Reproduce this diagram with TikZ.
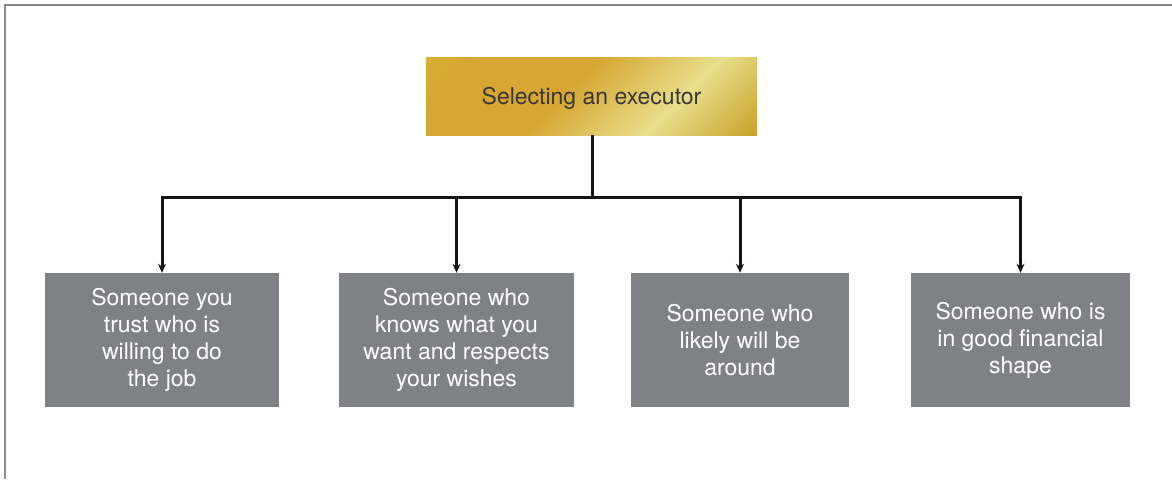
\documentclass[tikz,border=0pt]{standalone}
\usepackage{fontspec}
\setmainfont{TeX Gyre Heros}
\usetikzlibrary{arrows.meta}
\definecolor{boxgray}{HTML}{808184}
\definecolor{framegray}{HTML}{8A8A8A}
\definecolor{txtdark}{HTML}{3A3630}
\definecolor{gA}{HTML}{DDB83A}
\definecolor{gB}{HTML}{D6A733}
\definecolor{gC}{HTML}{E8DE8C}
\definecolor{gD}{HTML}{C39A1C}
\pgfdeclarehorizontalshading{goldshade}{100bp}{color(0bp)=(gA); color(25bp)=(gB); color(45bp)=(gB); color(66bp)=(gC); color(88bp)=(gD); color(100bp)=(gD)}
\tikzset{
  gold/.style={shading=goldshade, shading angle=-45, minimum width=331pt, minimum height=78pt, inner sep=0pt, text=txtdark, font=\fontsize{23}{27}\selectfont},
  item/.style={fill=boxgray, minimum height=134pt, inner sep=0pt, text=white, align=center, font=\fontsize{23}{27}\selectfont},
  link/.style={line width=3pt, draw=black!92},
  arr/.style={link, -{Stealth[length=9pt,width=8pt]}},
}
\begin{document}
\begin{tikzpicture}[x=1pt,y=-1pt]
\useasboundingbox (0,0) rectangle (1172,479);
\draw[framegray, line width=2pt] (1172,5) -- (5,5) -- (5,479);
\node[gold] (top) at (591.5,96) {};
\node[text=txtdark, font=\fontsize{23}{27}\selectfont, inner sep=0pt] (toplabel) at (591.5,98) {Selecting an executor};
\node[item, minimum width=234pt] (b1) at (162,340) {Someone you\\trust who is\\willing to do\\the job};
\node[item, minimum width=235pt] (b2) at (456.5,340) {Someone who\\knows what you\\want and respects\\your wishes};
\node[item, minimum width=218pt] (b3) at (740,340) {Someone who\\likely will be\\around};
\node[item, minimum width=219pt] (b4) at (1020.5,340) {Someone who is\\in good financial\\shape};
\coordinate (hub) at (592,197);
\draw[link] (top.south -| hub) -- (hub);
\draw[arr] (hub) -| (b1.north);
\draw[arr] (hub) -| (b2.north);
\draw[arr] (hub) -| (b3.north);
\draw[arr] (hub) -| (b4.north);
\end{tikzpicture}
\end{document}
